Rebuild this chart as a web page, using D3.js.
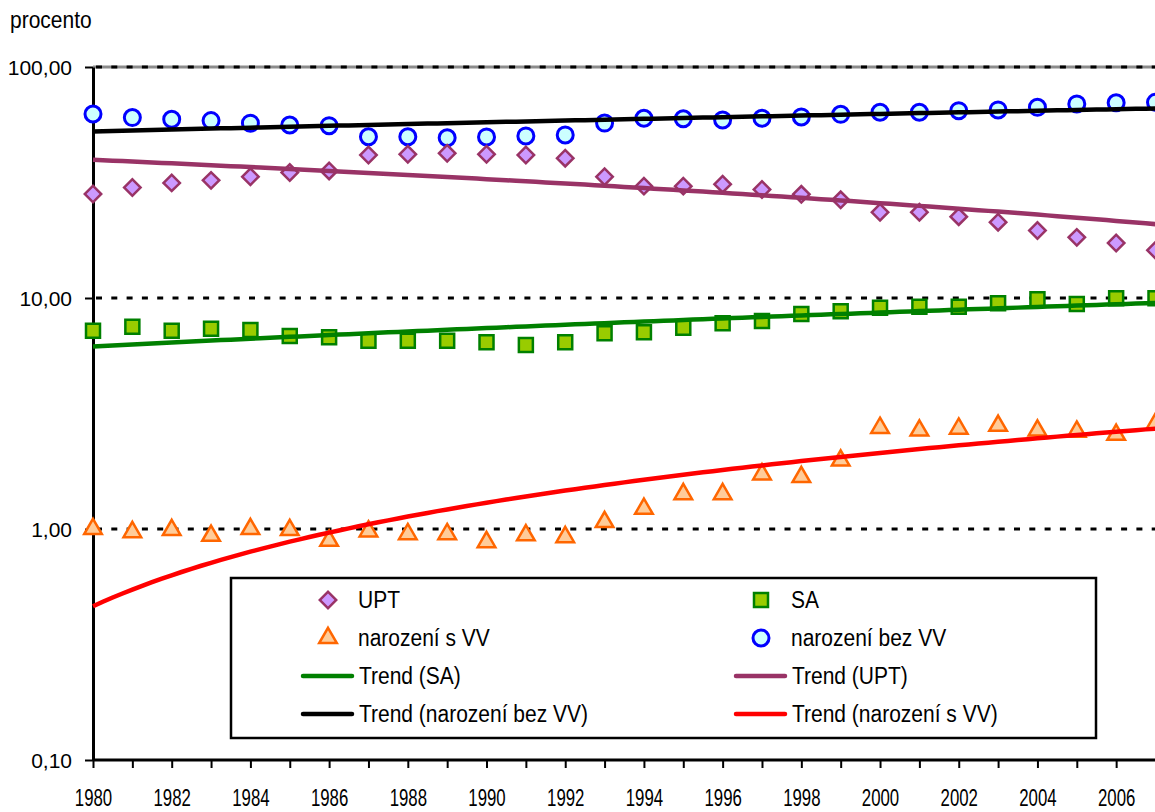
<!DOCTYPE html>
<html>
<head>
<meta charset="utf-8">
<title>UPT, SA, narození s VV / bez VV</title>
<script src="https://d3js.org/d3.v7.min.js"></script>
<style>
  body { margin: 0; background: #fff; }
  svg text { font-family: "Liberation Sans", Arial, sans-serif; fill: #000; }
  .tick text { font-size: 21px; }
  .legend text { font-size: 21px; }
</style>
</head>
<body>
<div id="chart"></div>
<script>
// data (percent)
const years = [1980, 1981, 1982, 1983, 1984, 1985, 1986, 1987, 1988, 1989, 1990, 1991, 1992, 1993,
               1994, 1995, 1996, 1997, 1998, 1999, 2000, 2001, 2002, 2003, 2004, 2005, 2006, 2007];
const upt   = [28.2, 30.1, 31.5, 32.3, 33.5, 34.9, 35.5, 41.6, 41.9, 42.3, 41.9, 41.6, 40.3, 33.5,
               30.5, 30.5, 31.1, 29.5, 28.1, 26.6, 23.5, 23.5, 22.5, 21.3, 19.6, 18.3, 17.3, 16.1];
const sa    = [7.22, 7.51, 7.22, 7.36, 7.27, 6.85, 6.76, 6.53, 6.53, 6.53, 6.44, 6.26, 6.44, 7.03,
               7.10, 7.44, 7.77, 7.95, 8.52, 8.77, 9.08, 9.17, 9.17, 9.48, 9.87, 9.42, 9.97, 9.97];
const sVV   = [1.00, 0.97, 0.99, 0.935, 1.00, 0.99, 0.89, 0.977, 0.95, 0.95, 0.878, 0.94, 0.923, 1.072,
               1.224, 1.417, 1.417, 1.725, 1.68, 1.98, 2.74, 2.67, 2.72, 2.80, 2.67, 2.64, 2.56, 2.86];
const bezVV = [62.6, 60.4, 59.4, 58.6, 57.1, 56.1, 55.7, 49.9, 49.9, 49.4, 49.8, 50.3, 50.8, 57.2,
               60.0, 59.7, 59.0, 60.0, 60.8, 62.4, 63.7, 63.7, 64.7, 65.2, 66.9, 69.2, 70.0, 70.3];
const yTicks = [0.1, 1, 10, 100];
const xLabelYears = [1980, 1982, 1984, 1986, 1988, 1990, 1992, 1994, 1996, 1998, 2000, 2002, 2004, 2006];

const W = 1155, H = 812;
const svg = d3.select("#chart").append("svg")
    .attr("width", W).attr("height", H);

const x = d3.scaleLinear().domain([1980, 2007]).range([93, 1155.5]);
const y = d3.scaleLog().domain([0.1, 100]).range([760, 67]);

// linear trend (least squares), like the spreadsheet "Trend"
function linearFit(xs, ys) {
  const mx = d3.mean(xs), my = d3.mean(ys);
  const b = d3.sum(xs, (v, i) => (v - mx) * (ys[i] - my)) / d3.sum(xs, v => (v - mx) * (v - mx));
  return t => my + b * (t - mx);
}

// grid lines
svg.append("line")
    .attr("x1", 93).attr("x2", W).attr("y1", y(100)).attr("y2", y(100))
    .attr("stroke", "#8c8c8c").attr("stroke-width", 3);
svg.selectAll(".grid")
    .data([1, 10, 100])
    .enter().append("line")
    .attr("class", "grid")
    .attr("x1", 96).attr("x2", W)
    .attr("y1", d => y(d)).attr("y2", d => y(d))
    .attr("stroke", "#000").attr("stroke-width", 3)
    .attr("stroke-dasharray", "6,9.3");

// axes
const xAxis = svg.append("g")
    .attr("transform", `translate(0,${y(0.1)})`)
    .call(d3.axisBottom(x).tickValues(years).tickSize(8).tickSizeOuter(0)
        .tickFormat(d => xLabelYears.includes(d) ? d : ""));
xAxis.select(".domain").attr("d", `M93,0H${W}`).attr("stroke-width", 3);
xAxis.selectAll(".tick line").attr("stroke-width", 2);
xAxis.selectAll(".tick text")
    .attr("y", 41.5).attr("dy", null)
    .attr("transform", "scale(0.8,1.12)");

const yAxis = svg.append("g")
    .attr("transform", `translate(93,0)`)
    .call(d3.axisLeft(y).tickValues(yTicks).tickSize(8).tickSizeOuter(0)
        .tickFormat(d => d3.format(".2f")(d).replace(".", ",")));
yAxis.select(".domain").attr("stroke-width", 3);
yAxis.selectAll(".tick line").attr("stroke-width", 2);
yAxis.selectAll(".tick text").attr("x", -21).attr("dy", "0.36em");

svg.append("text")
    .attr("transform", "translate(10,28) scale(1,1.18)")
    .style("font-size", "21px")
    .text("procento");

// marker shapes
const diamond = d3.symbol(d3.symbolSquare, 135);
const square = d3.symbol(d3.symbolSquare, 196);
const triangle = d3.symbol(d3.symbolTriangle, 135);

const series = [
  {name: "narození bez VV", values: bezVV},
  {name: "UPT", values: upt},
  {name: "SA", values: sa},
  {name: "narození s VV", values: sVV}
];

function drawMarker(sel, kind) {
  if (kind === "UPT") {
    sel.append("path").attr("d", diamond).attr("transform", "rotate(45)")
      .attr("fill", "#cc99ff").attr("stroke", "#993366").attr("stroke-width", 2.5);
  } else if (kind === "SA") {
    sel.append("path").attr("d", square)
      .attr("fill", "#99cc00").attr("stroke", "#008000").attr("stroke-width", 2.5);
  } else if (kind === "narození s VV") {
    sel.append("path").attr("d", triangle)
      .attr("fill", "#ffcc99").attr("stroke", "#ff6600").attr("stroke-width", 2.5);
  } else {
    sel.append("circle").attr("r", 8)
      .attr("fill", "#ccffff").attr("stroke", "#0000ff").attr("stroke-width", 3);
  }
}

series.forEach(s => {
  svg.append("g").selectAll("g")
    .data(years)
    .enter().append("g")
    .attr("transform", (d, i) => `translate(${x(d)},${y(s.values[i])})`)
    .each(function() { drawMarker(d3.select(this), s.name); });
});

// trend lines
const trends = [
  {name: "Trend (SA)", values: sa, color: "#008000"},
  {name: "Trend (UPT)", values: upt, color: "#993366"},
  {name: "Trend (narození bez VV)", values: bezVV, color: "#000000"},
  {name: "Trend (narození s VV)", values: sVV, color: "#ff0000"}
];
const fineYears = d3.range(1980, 2007.01, 0.25);
const line = d3.line().x(d => x(d[0])).y(d => y(d[1]));
trends.forEach(t => {
  const f = linearFit(years, t.values);
  svg.append("path")
    .datum(fineYears.map(yr => [yr, f(yr)]))
    .attr("d", line)
    .attr("fill", "none")
    .attr("stroke", t.color)
    .attr("stroke-width", 4.5);
});

// legend
const legend = svg.append("g").attr("class", "legend");
legend.append("rect")
    .attr("x", 231).attr("y", 578).attr("width", 865).attr("height", 160)
    .attr("fill", "#fff").attr("stroke", "#000").attr("stroke-width", 2.5);

const legendItems = [
  {label: "UPT", kind: "UPT", col: 0, row: 0},
  {label: "SA", kind: "SA", col: 1, row: 0},
  {label: "narození s VV", kind: "narození s VV", col: 0, row: 1},
  {label: "narození bez VV", kind: "narození bez VV", col: 1, row: 1},
  {label: "Trend (SA)", color: "#008000", col: 0, row: 2},
  {label: "Trend (UPT)", color: "#993366", col: 1, row: 2},
  {label: "Trend (narození bez VV)", color: "#000000", col: 0, row: 3},
  {label: "Trend (narození s VV)", color: "#ff0000", col: 1, row: 3}
];
const colX = [328, 761];
const rowY = [600, 638, 676, 714];

legendItems.forEach(it => {
  const g = legend.append("g")
    .attr("transform", `translate(${colX[it.col]},${rowY[it.row]})`);
  if (it.kind) {
    drawMarker(g, it.kind);
    g.append("text").attr("x", 30).attr("transform", "scale(1,1.12)").attr("dy", "0.36em").text(it.label);
  } else {
    g.append("line").attr("x1", -25).attr("x2", 24)
      .attr("stroke", it.color).attr("stroke-width", 4.5).attr("stroke-linecap", "round");
    g.append("text").attr("x", 31).attr("transform", "scale(1,1.12)").attr("dy", "0.36em").text(it.label);
  }
});
</script>
</body>
</html>
